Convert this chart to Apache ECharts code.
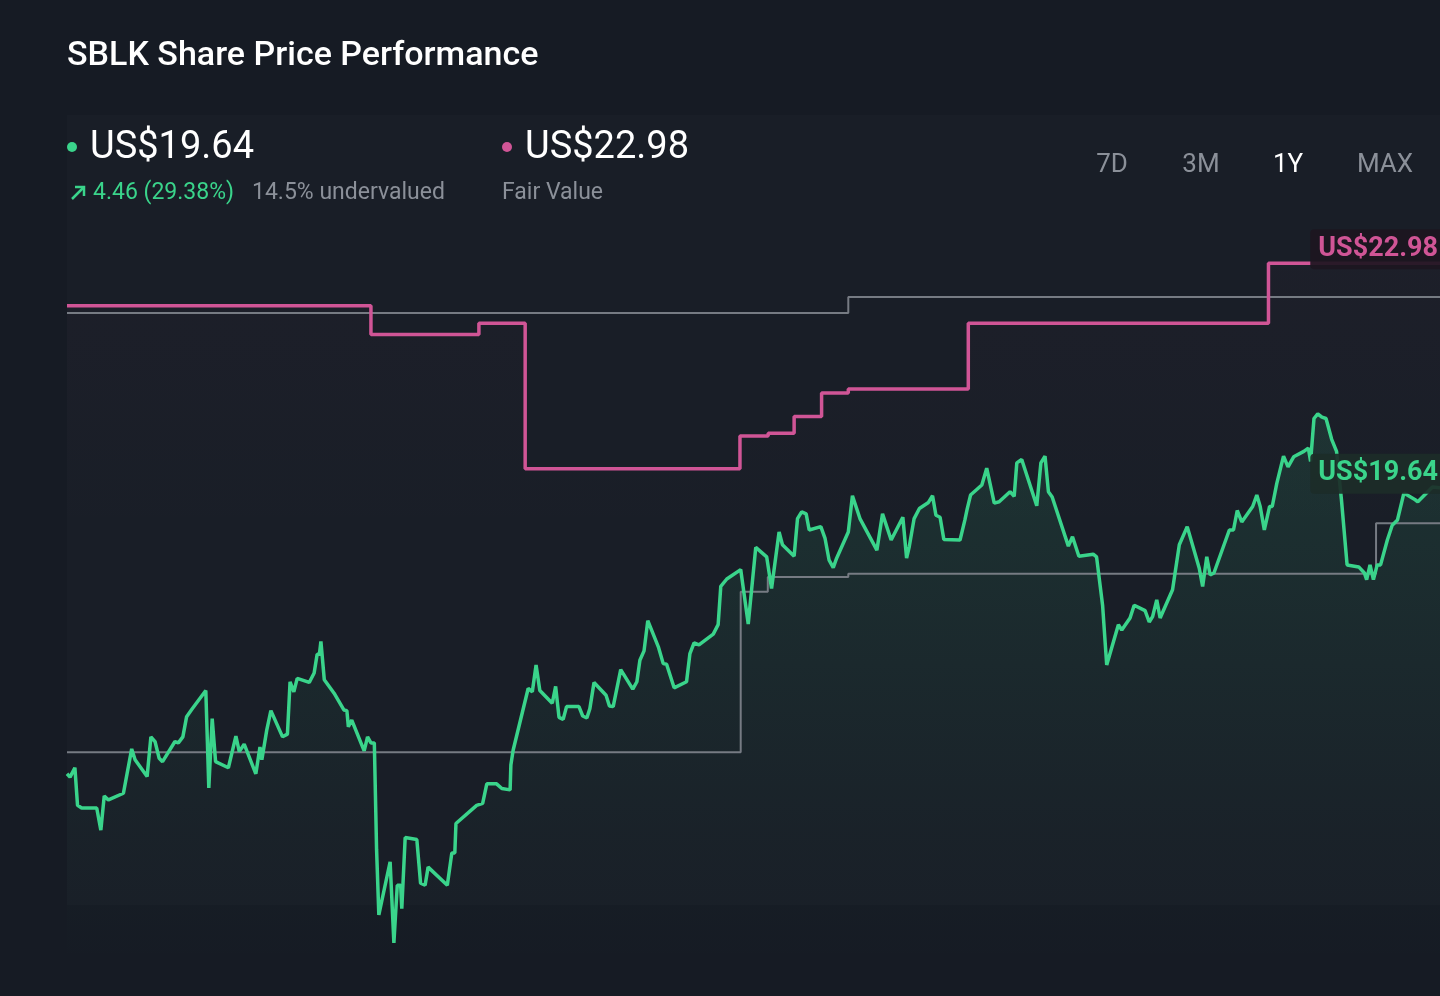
<!DOCTYPE html>
<html>
<head>
<meta charset="utf-8">
<title>SBLK Share Price Performance</title>
<script src="https://cdn.jsdelivr.net/npm/echarts@6/dist/echarts.min.js"></script>
<style>
  html, body { margin: 0; padding: 0; background: #161b24; }
  #main { width: 1440px; height: 996px; }
</style>
</head>
<body>
<div id="main"></div>
<script>
// day of the 1Y window (0 - 365) and share price in US$
var priceDays = [0,0.8,2.1,2.8,3.9,7.9,9.0,9.9,11.0,15.0,17.2,18.1,21.3,22.3,23.4,24.5,25.4,28.7,29.6,30.8,
  31.8,33.2,36.9,37.7,38.6,39.5,42.9,44.9,45.8,47.1,50.2,51.3,51.8,53.1,54.2,57.3,58.6,59.3,60.3,61.2,
  64.4,65.7,66.5,67.1,67.5,68.4,71.0,73.6,74.4,74.8,75.7,79.0,79.9,80.8,81.7,82.3,82.9,85.9,86.9,87.8,
  88.7,89.0,89.9,93.0,94.0,95.2,96.0,101.1,102.3,103.1,103.4,108.9,110.5,111.6,114.2,115.6,117.8,118.0,118.6,122.6,
  123.7,124.7,125.7,129.0,129.9,130.8,131.9,132.8,136.1,137.1,138.2,139.0,140.1,143.3,144.2,145.2,147.2,150.4,151.5,152.3,
  153.4,154.4,157.2,158.5,159.4,161.4,164.7,165.6,166.7,168.0,171.8,173.1,173.8,175.4,179.1,181.1,183.1,186.0,187.3,189.3,
  190.2,193.3,194.2,195.3,196.5,197.3,200.4,201.5,202.6,203.7,204.6,207.7,208.8,210.8,215.3,216.8,219.1,222.2,223.2,223.9,
  225.2,226.6,229.0,230.1,231.0,232.1,233.1,237.4,238.7,239.3,240.2,243.2,244.5,246.5,247.8,250.7,251.8,252.5,253.8,257.8,
  258.9,260.0,260.9,261.9,266.2,267.3,269.0,272.8,273.7,275.3,276.4,279.5,280.4,282.6,283.7,286.6,287.7,288.6,289.7,290.6,
  293.9,295.7,297.8,301.0,301.9,303.0,303.9,304.9,309.0,310.1,311.1,312.3,315.2,316.3,317.2,318.3,319.7,320.4,321.6,323.4,
  324.6,326.1,328.8,330.0,330.6,331.5,332.5,333.6,334.7,336.2,337.5,338.8,340.3,343.4,344.9,345.5,346.4,347.3,348.3,349.2,
  351.0,352.3,353.7,355.4,358.4,359.1,363.0,365];
var priceValues = [15.38,15.33,15.47,14.91,14.87,14.87,14.54,15.05,14.99,15.09,15.75,15.59,15.34,15.93,15.86,15.61,15.56,15.86,15.84,15.93,
  16.23,16.34,16.62,15.17,16.20,15.56,15.47,15.94,15.71,15.82,15.38,15.78,15.59,16.03,16.32,15.93,15.97,16.75,16.60,16.80,
  16.74,16.88,17.16,17.16,17.35,16.78,16.58,16.33,16.32,16.08,16.18,15.72,15.93,15.84,15.84,14.25,13.28,14.07,12.86,13.72,
  13.72,13.37,14.43,14.40,13.75,13.72,13.99,13.72,14.20,14.20,14.64,14.91,14.94,15.23,15.23,15.16,15.14,15.51,15.73,16.65,
  16.60,17.00,16.62,16.43,16.68,16.22,16.19,16.38,16.38,16.24,16.21,16.35,16.74,16.55,16.39,16.38,16.93,16.64,16.75,17.07,
  17.21,17.66,17.27,17.02,17.01,16.66,16.75,17.17,17.33,17.30,17.46,17.60,18.17,18.28,18.42,17.61,18.75,18.61,18.14,18.98,
  18.79,18.62,19.18,19.28,19.25,19.01,19.06,18.89,18.56,18.45,18.59,18.98,19.52,19.18,18.71,19.25,18.86,19.20,18.59,18.76,
  19.18,19.33,19.42,19.52,19.23,19.20,18.87,18.86,19.16,19.32,19.53,19.68,19.93,19.41,19.43,19.58,19.51,20.01,20.06,19.37,
  20.01,20.11,19.58,19.50,18.77,18.91,18.62,18.65,18.61,17.89,17.00,17.60,17.52,17.70,17.89,17.81,17.64,17.72,17.97,17.70,
  18.12,18.79,19.06,18.44,18.17,18.61,18.34,18.37,19.01,19.01,19.30,19.13,19.36,19.53,19.36,19.01,19.36,19.36,19.70,20.11,
  19.95,20.10,20.18,20.23,20.03,20.67,20.74,20.69,20.67,20.36,20.18,19.46,18.49,18.46,18.37,18.27,18.49,18.27,18.49,18.49,
  18.86,19.08,19.16,19.56,19.46,19.43,19.65,19.64];

// fair value estimate, changes on these days
var fairDays = [0, 80.8, 109.5, 121.8, 178.9, 186.4, 193.3, 200.6, 207.7, 239.6, 319.4, 365];
var fairValues = [22.35, 21.92, 22.09, 19.92, 20.41, 20.45, 20.70, 21.05, 21.11, 22.09, 22.98, 22.98];

// grey reference steps
var upperDays = [0, 207.7, 365];
var upperValues = [22.24, 22.48, 22.48];
var lowerDays = [0, 179.1, 186.3, 207.7, 348.0, 365];
var lowerValues = [15.70, 18.09, 18.31, 18.36, 19.11, 19.11];

var changeText = '4.46 (29.38%)';
var valuationText = '14.5% undervalued';
var periods = ['7D', '3M', '1Y', 'MAX'];
var activePeriod = '1Y';

var GREEN = '#3ad48b', PINK = '#d05596', GREY = '#767b83', MUTED = '#8b9099';
var FONT = 'Roboto, "Noto Sans", sans-serif';

function pairs(xs, ys) {
  return xs.map(function (x, i) { return [x, ys[i]]; });
}

var lastPrice = priceValues[priceValues.length - 1];
var lastFair = fairValues[fairValues.length - 1];

var chart = echarts.init(document.getElementById('main'));

var periodX = [1112, 1201, 1288, 1385];
var graphics = [
  { type: 'rect', silent: true, z: -10, shape: { x: 67, y: 115, width: 1373, height: 790 },
    style: { fill: 'rgba(255,255,255,0.014)' } },
  { type: 'text', x: 67, y: 56, style: { text: 'SBLK Share Price Performance', fill: '#ffffff',
    font: '500 34px ' + FONT, textVerticalAlign: 'middle' } },
  { type: 'circle', shape: { cx: 72, cy: 147, r: 5 }, style: { fill: GREEN } },
  { type: 'text', x: 90, y: 148, style: { text: 'US$' + lastPrice.toFixed(2), fill: '#ffffff',
    font: '38px ' + FONT, textVerticalAlign: 'middle' } },
  { type: 'polyline', shape: { points: [[72, 199], [84, 187]] }, style: { stroke: GREEN, lineWidth: 2.5 } },
  { type: 'polyline', shape: { points: [[75, 187], [84, 187], [84, 196]] }, style: { stroke: GREEN, lineWidth: 2.5, fill: null } },
  { type: 'text', x: 93, y: 193, style: { text: changeText, fill: GREEN, font: '23px ' + FONT, textVerticalAlign: 'middle' } },
  { type: 'text', x: 252, y: 193, style: { text: valuationText, fill: MUTED, font: '23px ' + FONT, textVerticalAlign: 'middle' } },
  { type: 'circle', shape: { cx: 507, cy: 147, r: 5 }, style: { fill: PINK } },
  { type: 'text', x: 525, y: 148, style: { text: 'US$' + lastFair.toFixed(2), fill: '#ffffff',
    font: '38px ' + FONT, textVerticalAlign: 'middle' } },
  { type: 'text', x: 502, y: 193, style: { text: 'Fair Value', fill: MUTED, font: '23px ' + FONT, textVerticalAlign: 'middle' } }
];
periods.forEach(function (p, i) {
  graphics.push({ type: 'text', x: periodX[i], y: 165, style: { text: p,
    fill: p === activePeriod ? '#ffffff' : MUTED, font: '26px ' + FONT,
    textAlign: 'center', textVerticalAlign: 'middle' } });
});

function endLabel(value, color, bg) {
  return {
    symbol: 'rect', symbolSize: 0, silent: true,
    data: [{ coord: [priceDays[priceDays.length - 1], value] }],
    label: {
      show: true, position: 'left', distance: 0, offset: [6, -14],
      formatter: 'US$' + value.toFixed(2),
      color: color, fontFamily: FONT, fontWeight: 'bold', fontSize: 27, lineHeight: 30,
      backgroundColor: bg, padding: [5, 8, 5, 8], borderRadius: 4
    }
  };
}

chart.setOption({
  backgroundColor: '#161b24',
  animation: false,
  graphic: graphics,
  grid: { left: 67, right: 0, top: 215, height: 752.2 },
  xAxis: { type: 'value', min: 0, max: 365, show: false },
  yAxis: { type: 'value', min: 12.5, max: 23.7, show: false },
  series: [
    { name: 'upper', type: 'line', step: 'end', data: pairs(upperDays, upperValues), symbol: 'none',
      lineStyle: { color: GREY, width: 2 } },
    { name: 'lower', type: 'line', step: 'end', data: pairs(lowerDays, lowerValues), symbol: 'none',
      lineStyle: { color: GREY, width: 2 } },
    { name: 'Fair Value', type: 'line', step: 'end', data: pairs(fairDays, fairValues), symbol: 'none',
      lineStyle: { color: PINK, width: 3.5 },
      areaStyle: { color: new echarts.graphic.LinearGradient(0, 0, 0, 1, [
        { offset: 0, color: 'rgba(208,85,150,0.03)' }, { offset: 0.4, color: 'rgba(208,85,150,0)' }]) },
      markPoint: endLabel(lastFair, PINK, 'rgba(28,22,32,0.92)') },
    { name: 'Price', type: 'line', data: pairs(priceDays, priceValues), symbol: 'none',
      lineStyle: { color: GREEN, width: 3.5 },
      areaStyle: { color: new echarts.graphic.LinearGradient(0, 0, 0, 1, [
        { offset: 0, color: 'rgba(58,212,139,0.17)' }, { offset: 0.75, color: 'rgba(58,212,139,0.03)' },
        { offset: 1, color: 'rgba(58,212,139,0)' }]) },
      markPoint: endLabel(lastPrice, GREEN, 'rgba(28,44,40,0.92)') }
  ]
});
</script>
</body>
</html>
